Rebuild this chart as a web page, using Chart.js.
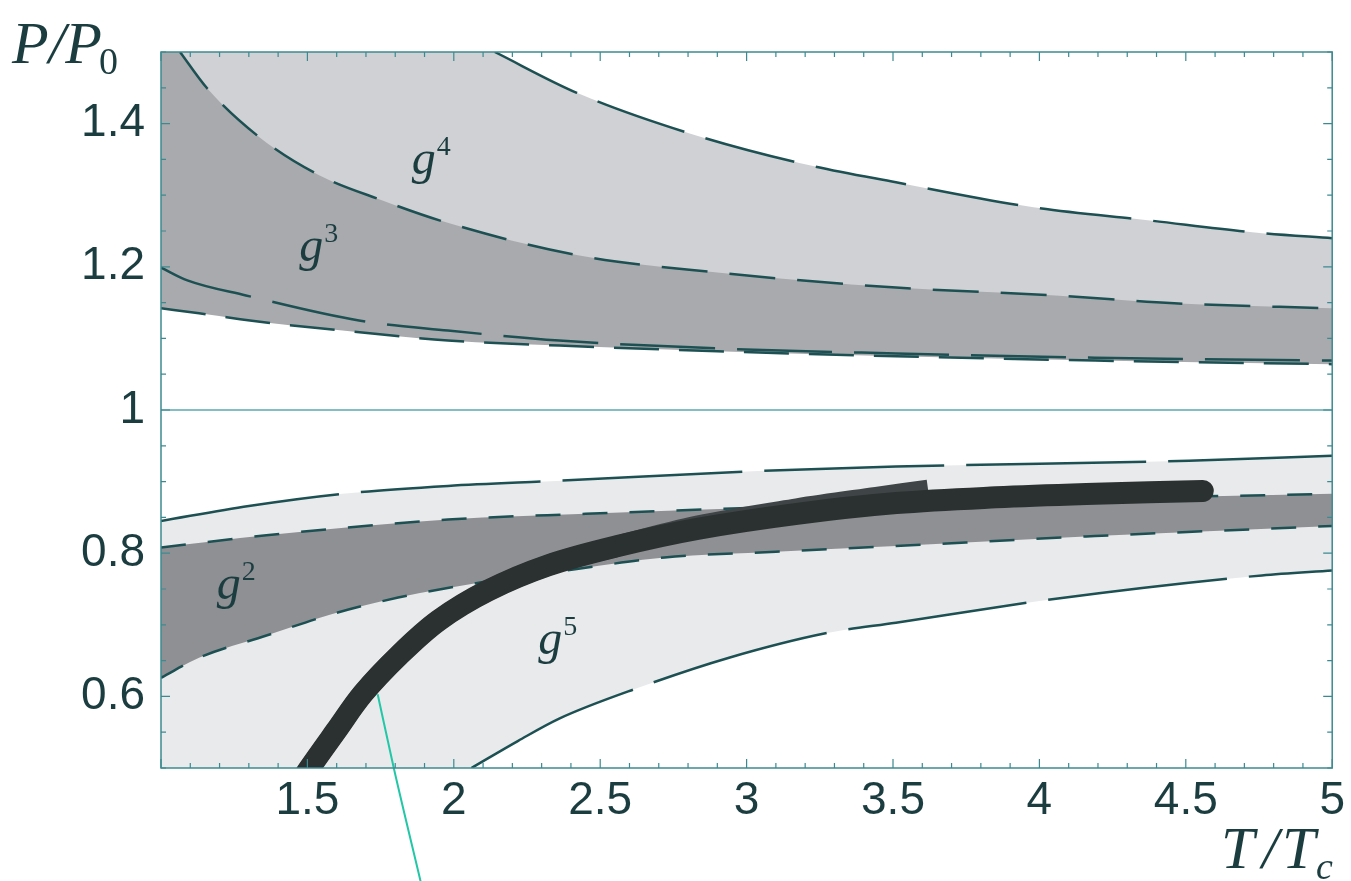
<!DOCTYPE html>
<html>
<head>
<meta charset="utf-8">
<title>P/P0 vs T/Tc</title>
<script src="https://cdn.jsdelivr.net/npm/chart.js@4.4.1/dist/chart.umd.min.js"></script>
<style>
  html, body { margin: 0; padding: 0; background: #fff; }
  #wrap { width: 1351px; height: 881px; }
</style>
</head>
<body>
<div id="wrap"><canvas id="chart" width="1351" height="881"></canvas></div>
<script>
// tick labels
const xTicks = [1.5, 2, 2.5, 3, 3.5, 4, 4.5, 5];
const yTicks = [0.6, 0.8, 1, 1.2, 1.4];

// upper bands (P/P0 > 1)
const aT = [2.14, 2.42, 2.80, 3.18, 3.51, 3.98, 4.37, 4.76, 5.0];
const aP = [1.50, 1.443, 1.387, 1.345, 1.318, 1.283, 1.265, 1.247, 1.240];
const bT = [1.065, 1.156, 1.336, 1.54, 1.754, 1.982, 2.424, 2.90, 3.51, 4.055, 4.46, 5.0];
const bP = [1.50, 1.450, 1.381, 1.328, 1.293, 1.261, 1.216, 1.192, 1.171, 1.160, 1.149, 1.142];
const cT = [1.0, 1.09, 1.29, 1.676, 1.98, 2.36, 2.90, 3.51, 4.19, 5.0];
const cP = [1.199, 1.181, 1.160, 1.125, 1.111, 1.097, 1.086, 1.079, 1.073, 1.069];
const dT = [1.0, 1.13, 1.38, 1.62, 1.98, 2.36, 2.90, 3.51, 4.19, 5.0];
const dP = [1.142, 1.135, 1.121, 1.111, 1.097, 1.090, 1.082, 1.075, 1.069, 1.064];

// lower bands (P/P0 < 1)
const eT = [1.0, 1.30, 1.62, 1.98, 2.35, 3.06, 3.51, 4.51, 5.0];
const eP = [0.845, 0.866, 0.883, 0.894, 0.901, 0.915, 0.921, 0.929, 0.936];
const fT = [1.0, 1.36, 1.98, 2.45, 3.06, 3.85, 5.0];
const fP = [0.808, 0.825, 0.847, 0.855, 0.864, 0.873, 0.883];
const gT = [1.0, 1.13, 1.36, 1.585, 1.81, 2.09, 2.42, 2.72, 3.10, 3.51, 4.19, 5.0];
const gP = [0.626, 0.654, 0.685, 0.715, 0.738, 0.759, 0.778, 0.794, 0.802, 0.810, 0.824, 0.838];
const hT = [2.06, 2.22, 2.36, 2.63, 2.94, 3.28, 3.51, 4.05, 4.76, 5.0];
const hP = [0.50, 0.538, 0.569, 0.612, 0.654, 0.689, 0.703, 0.736, 0.769, 0.776];

// ideal gas line
const refT = [1, 5];
const refP = [1, 1];

// thick lattice curves
const lat1T = [1.46, 1.506, 1.598, 1.690, 1.812, 1.948, 2.118, 2.322, 2.560, 2.832, 3.172, 3.443, 3.62];
const lat1P = [0.47, 0.499, 0.552, 0.604, 0.657, 0.706, 0.748, 0.783, 0.810, 0.838, 0.862, 0.878, 0.888];
const lat2T = [1.46, 1.506, 1.598, 1.690, 1.812, 1.948, 2.118, 2.322, 2.560, 2.832, 3.172, 3.511, 3.851, 4.19, 4.558];
const lat2P = [0.47, 0.499, 0.552, 0.604, 0.657, 0.706, 0.748, 0.783, 0.810, 0.834, 0.855, 0.870, 0.878, 0.883, 0.887];

// stray pointer line
const ptrT = [1.74, 1.795, 1.887];
const ptrP = [0.603, 0.500, 0.341];

const bandLabels = [
  { t: 1.856, p: 1.330, exp: "4" },
  { t: 1.472, p: 1.208, exp: "3" },
  { t: 1.19, p: 0.736, exp: "2" },
  { t: 2.288, p: 0.659, exp: "5" },
];

const pts = (xs, ys) => xs.map((x, i) => ({ x, y: ys[i] }));

const LINE = "#1d5053";
const TEXT = "#1b3d40";

const curve = (data, dash, extra) =>
  Object.assign(
    {
      data,
      borderColor: LINE,
      borderWidth: 2.5,
      borderDash: dash,
      pointRadius: 0,
      cubicInterpolationMode: "monotone",
      fill: false,
    },
    extra
  );

const thick = { cubicInterpolationMode: "default", tension: 0.35, clip: 0 };

const datasets = [
  // upper region, bottom layer first (higher order drawn first)
  curve(pts(dT, dP), [45, 20], { order: 20, fill: "end", backgroundColor: "#a8aaad" }),
  curve(pts(bT, bP), [46, 22], { order: 19, fill: "end", backgroundColor: "#cfd1d4" }),
  curve(pts(aT, aP), [92, 22], { order: 18, fill: "end", backgroundColor: "#ffffff" }),
  curve(pts(cT, cP), [95, 22], { order: 17 }),
  // lower region
  curve(pts(eT, eP), [180, 22], { order: 16, fill: "start", backgroundColor: "#e8eaec" }),
  curve(pts(hT, hP), [180, 22], { order: 15, fill: "start", backgroundColor: "#ffffff" }),
  curve(pts(gT, gP), [25, 22], { order: 13 }),
  curve(pts(fT, fP), [25, 22], { order: 14, fill: 6, backgroundColor: "#8e9094" }),
  curve(pts(refT, refP), [], { order: 12, borderColor: "#5aa9b0", borderWidth: 1.5 }),
  curve(pts(lat1T, lat1P), [], Object.assign({ order: 3, borderColor: "#3f4546", borderWidth: 21, borderCapStyle: "butt" }, thick)),
  curve(pts(lat2T, lat2P), [], Object.assign({ order: 2, borderColor: "#2b3131", borderWidth: 22, borderCapStyle: "round" }, thick)),
  curve(pts(ptrT, ptrP), [], { order: 1, borderColor: "#22c7a6", borderWidth: 2, clip: false }),
];

const frame = {
  id: "frame",
  afterDatasetsDraw(chart) {
    const { ctx, chartArea: a, scales } = chart;
    const xs = scales.x, ys = scales.y;
    ctx.save();
    ctx.strokeStyle = "#3c8a90";
    ctx.lineWidth = 1.5;
    ctx.strokeRect(a.left, a.top, a.right - a.left, a.bottom - a.top);
    ctx.lineWidth = 1.2;
    ctx.beginPath();
    for (let i = 10; i <= 50; i++) {
      const px = xs.getPixelForValue(i / 10);
      const len = i % 5 === 0 ? 9 : 5;
      ctx.moveTo(px, a.bottom); ctx.lineTo(px, a.bottom - len);
      ctx.moveTo(px, a.top); ctx.lineTo(px, a.top + len);
    }
    for (let i = 10; i <= 30; i++) {
      const py = ys.getPixelForValue(i / 20);
      const len = i % 4 === 0 ? 9 : 5;
      ctx.moveTo(a.left, py); ctx.lineTo(a.left + len, py);
      ctx.moveTo(a.right, py); ctx.lineTo(a.right - len, py);
    }
    ctx.stroke();

    // band labels g^n
    ctx.fillStyle = TEXT;
    ctx.textBaseline = "alphabetic";
    ctx.textAlign = "left";
    bandLabels.forEach((l) => {
      const x = xs.getPixelForValue(l.t);
      const y = ys.getPixelForValue(l.p);
      ctx.font = "italic 48px 'Liberation Serif'";
      ctx.fillText("g", x, y);
      const w = ctx.measureText("g").width;
      ctx.font = "28px 'Liberation Serif'";
      ctx.fillText(l.exp, x + w + 1, y - 19);
    });

    // axis titles
    ctx.font = "italic 60px 'Liberation Serif'";
    ctx.fillText("P/P", 12, 63);
    let w = ctx.measureText("P/P").width;
    ctx.font = "38px 'Liberation Serif'";
    ctx.fillText("0", 12 + w - 3, 74);

    ctx.font = "italic 60px 'Liberation Serif'";
    ctx.fillText("T", 1221, 868);
    ctx.fillText("/", 1262, 868);
    ctx.fillText("T", 1282, 868);
    ctx.font = "italic 38px 'Liberation Serif'";
    ctx.fillText("c", 1316, 879);
    ctx.restore();
  },
};

new Chart(document.getElementById("chart"), {
  type: "line",
  data: { datasets },
  options: {
    responsive: false,
    animation: false,
    devicePixelRatio: 1,
    layout: { padding: { top: 52, right: 13, left: 0, bottom: 0 } },
    plugins: {
      legend: { display: false },
      tooltip: { enabled: false },
      filler: { propagate: false },
    },
    scales: {
      x: {
        type: "linear",
        min: 1,
        max: 5,
        grid: { display: false, drawTicks: false },
        border: { display: false },
        afterBuildTicks: (s) => { s.ticks = xTicks.map((v) => ({ value: v })); },
        afterFit: (s) => { s.height = 113; },
        ticks: {
          padding: 6,
          maxRotation: 0,
          autoSkip: false,
          color: TEXT,
          font: { family: "'Liberation Sans', Arial, sans-serif", size: 46 },
          callback: (v) => String(Math.round(v * 10) / 10),
        },
      },
      y: {
        type: "linear",
        min: 0.5,
        max: 1.5,
        grid: { display: false, drawTicks: false },
        border: { display: false },
        afterBuildTicks: (s) => { s.ticks = yTicks.map((v) => ({ value: v })); },
        afterFit: (s) => { s.width = 161; },
        ticks: {
          padding: 16,
          autoSkip: false,
          color: TEXT,
          font: { family: "'Liberation Sans', Arial, sans-serif", size: 46 },
          callback: (v) => String(Math.round(v * 10) / 10),
        },
      },
    },
  },
  plugins: [frame],
});
</script>
</body>
</html>
